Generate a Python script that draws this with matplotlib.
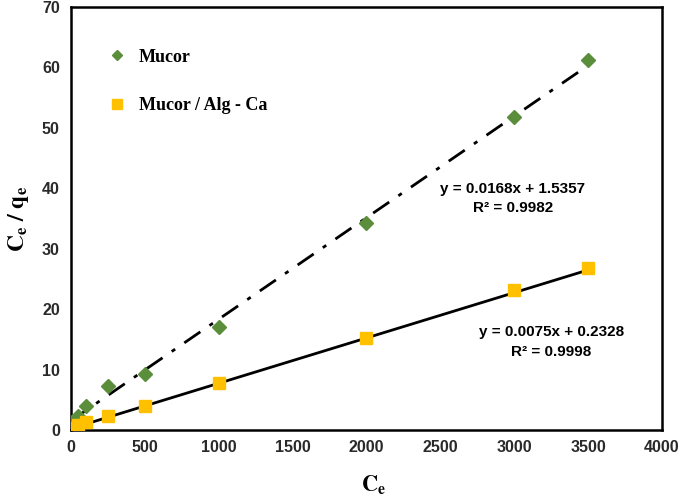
import numpy as np
import matplotlib
matplotlib.use('Agg')
import matplotlib.pyplot as plt
from matplotlib.lines import Line2D

# data
ce_mucor = [10, 50, 100, 250, 500, 1000, 2000, 3000, 3500]
ceqe_mucor = [1.3, 2.4, 3.9, 7.2, 9.2, 17.1, 34.3, 51.8, 61.3]

ce_alg = [10, 50, 100, 250, 500, 1000, 2000, 3000, 3500]
ceqe_alg = [0.4, 0.9, 1.4, 2.3, 4.0, 7.7, 15.3, 23.2, 26.8]

# trendline coefficients (slope, intercept) as printed on the chart
fit_mucor = (0.0168, 1.5357)
fit_alg = (0.0075, 0.2328)
r2_mucor = 0.9982
r2_alg = 0.9998

xticks = [0, 500, 1000, 1500, 2000, 2500, 3000, 3500, 4000]
yticks = [0, 10, 20, 30, 40, 50, 60, 70]

green = '#5B8E3B'
yellow = '#FFC000'

plt.rcParams['font.family'] = ['Liberation Sans', 'DejaVu Sans']
plt.rcParams['mathtext.fontset'] = 'stix'

fig = plt.figure(figsize=(6.85, 4.97), dpi=100)
ax = fig.add_axes([0.1036, 0.1348, 0.8628, 0.8511])

# trendlines
xl = np.array([0, 3500])
ax.plot(xl, fit_mucor[0] * xl + fit_mucor[1], color='black', lw=2,
        dashes=[7, 4, 1.5, 4], zorder=2)
ax.plot(xl, fit_alg[0] * xl + fit_alg[1], color='black', lw=2, zorder=2)

# data points
ax.plot(ce_mucor, ceqe_mucor, linestyle='none', marker='D', ms=7.5,
        color=green, mec=green, zorder=3)
ax.plot(ce_alg, ceqe_alg, linestyle='none', marker='s', ms=8.5,
        color=yellow, mec=yellow, zorder=3)

ax.set_xlim(0, 4000)
ax.set_ylim(0, 70)
ax.set_xticks(xticks)
ax.set_yticks(yticks)
ax.tick_params(length=0, labelsize=11.5)
ax.tick_params(axis='x', pad=7)
ax.tick_params(axis='y', pad=8)
for lab in ax.get_xticklabels() + ax.get_yticklabels():
    lab.set_fontweight('bold')
    lab.set_color('#2a2a2a')
for sp in ax.spines.values():
    sp.set_linewidth(1.8)

# axis titles
fig.text(0.545, 0.024, r'$\mathbf{C_e}$', fontsize=16, ha='center',
         va='center')
ax.set_ylabel(r'$\mathbf{C_e\ /\ q_e}$', fontsize=17, labelpad=8)

# equations
ax.text(2990, 39.9, 'y = %.4fx + %.4f' % fit_mucor, ha='center',
        va='center', fontsize=11, fontweight='bold')
ax.text(2990, 36.8, 'R² = %.4f' % r2_mucor, ha='center',
        va='center', fontsize=11, fontweight='bold')
ax.text(3250, 16.2, 'y = %.4fx + %.4f' % fit_alg, ha='center',
        va='center', fontsize=11, fontweight='bold')
ax.text(3250, 12.9, 'R² = %.4f' % r2_alg, ha='center',
        va='center', fontsize=11, fontweight='bold')

# legend
handles = [Line2D([], [], linestyle='none', marker='D', ms=5, color=green),
           Line2D([], [], linestyle='none', marker='s', ms=7, color=yellow)]
ax.legend(handles, ['Mucor', 'Mucor / Alg - Ca'], loc='upper left',
          bbox_to_anchor=(0.035, 0.94), frameon=False, labelspacing=1.75,
          handletextpad=0.7, handlelength=1.0,
          prop={'family': 'Liberation Serif', 'weight': 'bold', 'size': 13})

fig.savefig('out.png', dpi=100)
